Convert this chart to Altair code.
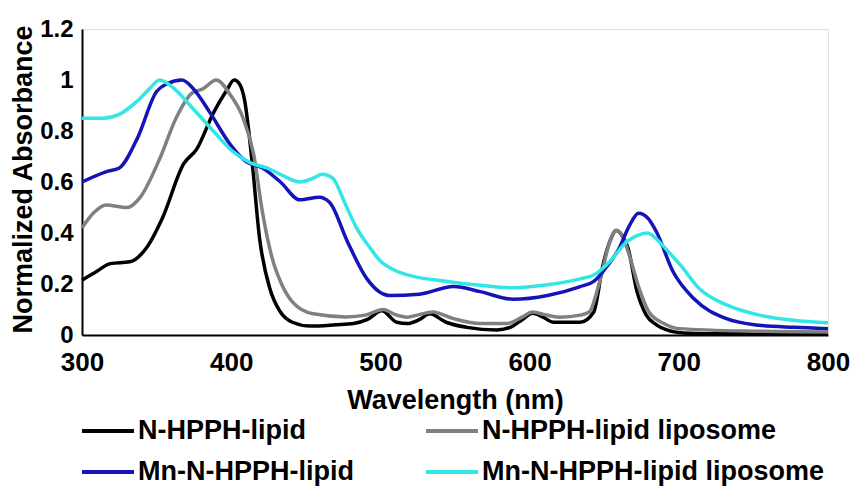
import altair as alt
import pandas as pd

series_names = ["N-HPPH-lipid", "N-HPPH-lipid liposome", "Mn-N-HPPH-lipid", "Mn-N-HPPH-lipid liposome"]
series_colors = ["#000000", "#808080", "#1414b8", "#33e6e6"]
# legend fills column by column: order entries so that rows read as in the reference
legend_order = [0, 2, 1, 3]

black_nm = [300, 310, 319, 332, 343, 354, 368, 377, 388, 397, 402, 406, 409, 414, 419, 426, 433, 441, 453, 470,
            482, 491, 501, 511, 518, 526, 533, 544, 558, 578, 587, 595, 602, 609, 616, 634, 643, 649, 654, 658,
            662, 666, 672, 678, 685, 692, 703, 720, 750, 800]
black_val = [0.215, 0.25, 0.28, 0.287, 0.34, 0.46, 0.67, 0.73, 0.87, 0.96, 1.0, 0.98, 0.92, 0.68, 0.38, 0.18, 0.09, 0.05, 0.035, 0.04,
             0.045, 0.06, 0.095, 0.05, 0.045, 0.06, 0.083, 0.05, 0.03, 0.02, 0.03, 0.06, 0.085, 0.07, 0.05, 0.05, 0.09, 0.27, 0.37, 0.41,
             0.39, 0.34, 0.17, 0.08, 0.04, 0.02, 0.008, 0.005, 0.005, 0.005]

gray_nm = [300, 308, 316, 330, 339, 352, 363, 374, 381, 390, 399, 408, 415, 421, 428, 433, 441, 455, 477, 490,
           502, 510, 518, 526, 535, 549, 567, 585, 595, 602, 610, 620, 634, 640, 647, 654, 658, 662, 667, 673,
           680, 690, 700, 750, 800]
gray_val = [0.42, 0.48, 0.51, 0.50, 0.54, 0.69, 0.85, 0.95, 0.965, 1.0, 0.945, 0.85, 0.71, 0.48, 0.29, 0.21, 0.13, 0.083, 0.071, 0.078,
            0.10, 0.08, 0.07, 0.08, 0.09, 0.064, 0.045, 0.045, 0.07, 0.09, 0.08, 0.07, 0.078, 0.09, 0.21, 0.37, 0.41, 0.39, 0.31, 0.19,
            0.09, 0.045, 0.025, 0.015, 0.012]

blue_nm = [300, 316, 325, 337, 350, 357, 367, 374, 386, 399, 410, 421, 433, 446, 459, 466, 478, 491, 506, 526,
           549, 567, 589, 612, 634, 643, 652, 660, 667, 673, 679, 685, 696, 710, 732, 754, 777, 800]
blue_val = [0.60, 0.64, 0.655, 0.77, 0.955, 0.985, 1.0, 0.97, 0.87, 0.75, 0.68, 0.655, 0.60, 0.53, 0.54, 0.52, 0.365, 0.22, 0.155, 0.16,
            0.19, 0.17, 0.14, 0.155, 0.19, 0.21, 0.27, 0.34, 0.43, 0.477, 0.46, 0.405, 0.25, 0.143, 0.064, 0.038, 0.03, 0.025]

cyan_nm = [300, 314, 325, 337, 346, 352, 361, 374, 388, 401, 413, 424, 433, 446, 455, 461, 468, 476, 484, 492,
           500, 511, 522, 545, 567, 589, 612, 634, 643, 654, 665, 672, 679, 687, 694, 701, 714, 732, 754, 777, 800]
cyan_val = [0.85, 0.85, 0.865, 0.917, 0.97, 1.0, 0.97, 0.89, 0.80, 0.72, 0.675, 0.655, 0.63, 0.60, 0.615, 0.63, 0.615, 0.52, 0.42, 0.35,
            0.29, 0.25, 0.23, 0.21, 0.195, 0.185, 0.197, 0.22, 0.235, 0.29, 0.365, 0.39, 0.40, 0.365, 0.32, 0.275, 0.18, 0.118, 0.078, 0.058, 0.048]

y_ticks = [0, 0.2, 0.4, 0.6, 0.8, 1.0, 1.2]
x_ticks = [300, 400, 500, 600, 700, 800]

frames = []
for name, nm, val in zip(series_names,
                         [black_nm, gray_nm, blue_nm, cyan_nm],
                         [black_val, gray_val, blue_val, cyan_val]):
    frames.append(pd.DataFrame({"nm": nm, "val": val, "series": name}))
df = pd.concat(frames, ignore_index=True)

dom = [series_names[i] for i in legend_order]
rng = [series_colors[i] for i in legend_order]

FONT = "Liberation Sans"

chart = alt.Chart(df).mark_line(strokeWidth=3.5, interpolate="monotone").encode(
    x=alt.X("nm:Q", scale=alt.Scale(domain=[300, 800], nice=False),
            axis=alt.Axis(title="Wavelength (nm)", values=x_ticks, grid=False, ticks=False,
                          domainColor="black", domainWidth=2, labelFontSize=26, labelFont=FONT,
                          labelFontWeight="bold", labelColor="black", labelPadding=14,
                          labelFlush=False, labelOverlap=False,
                          titleFontSize=27, titleFont=FONT, titleFontWeight="bold", titleColor="black",
                          titleY=65, titleBaseline="middle")),
    y=alt.Y("val:Q", scale=alt.Scale(domain=[0, 1.2], nice=False),
            axis=alt.Axis(title="Normalized Absorbance", values=y_ticks, format=".1~f", grid=False, ticks=False,
                          domainColor="black", domainWidth=2, labelFontSize=24, labelFont=FONT,
                          labelFontWeight="bold", labelColor="black", labelPadding=9,
                          labelFlush=False, labelOverlap=False,
                          titleFontSize=27, titleFont=FONT, titleFontWeight="bold", titleColor="black",
                          titleX=-59, titleY=150, titleBaseline="middle", titleAlign="center")),
    color=alt.Color("series:N", scale=alt.Scale(domain=dom, range=rng),
                    legend=alt.Legend(title=None, orient="none", legendX=-2, legendY=374, columns=2,
                                      symbolType="stroke", symbolSize=2700, symbolStrokeWidth=4,
                                      labelFontSize=27, labelFont=FONT, labelFontWeight="bold",
                                      labelColor="black", labelOffset=2, columnPadding=64,
                                      rowPadding=-12, labelLimit=500)),
    detail="series:N",
).properties(
    width=746, height=306,
    autosize=alt.AutoSizeParams(type="none"),
    padding={"left": 82, "top": 29, "right": 29, "bottom": 154},
).configure_view(stroke=None).configure(background="white")

chart.save("out.html", embed_options={"renderer": "svg", "actions": False})
